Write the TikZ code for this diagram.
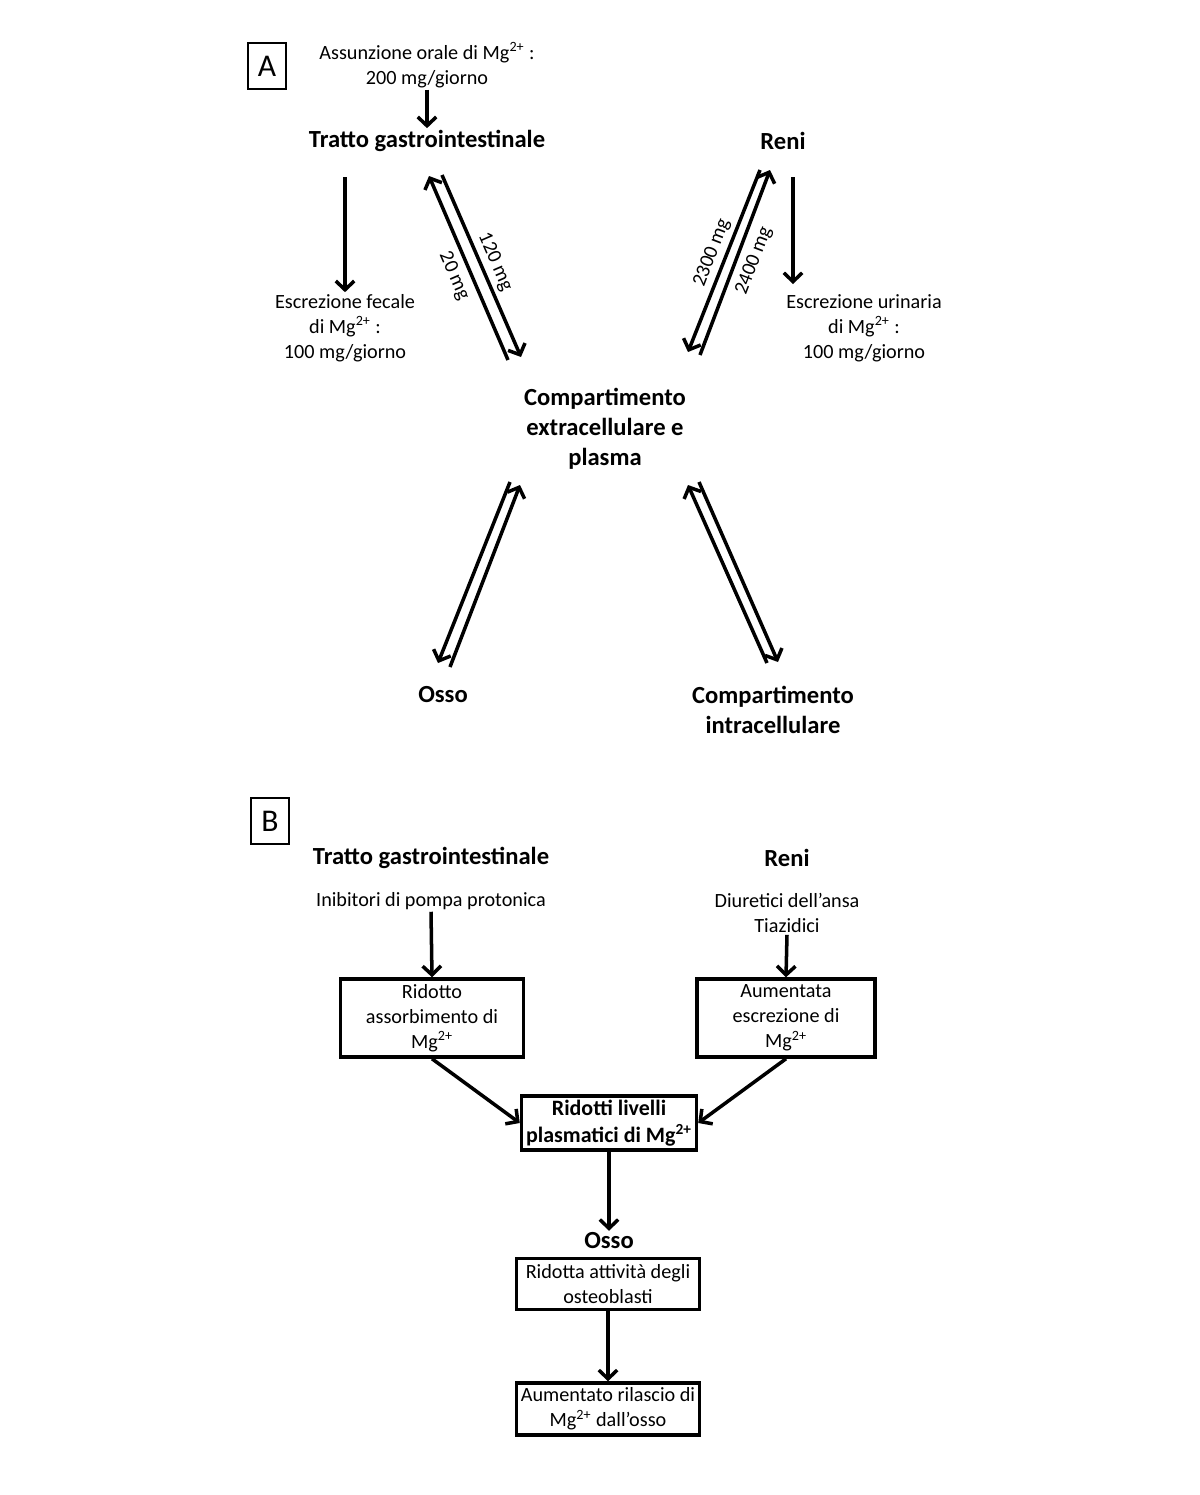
\documentclass[tikz,border=0pt]{standalone}
\usepackage{fontspec}
\setmainfont{Carlito}
\usetikzlibrary{arrows.meta}

\newcommand{\mgion}{Mg\textsuperscript{2+}}

\begin{document}
\begin{tikzpicture}[x=0.02cm, y=-0.02cm,
    txt/.style={align=center, inner sep=1pt, font=\fontsize{11.5}{14.2}\selectfont},
    head/.style={align=center, inner sep=1pt, font=\bfseries\fontsize{14}{17}\selectfont},
    arr/.style={-{Straight Barb[length=5pt, width=10.5pt]}, line width=2pt},
    panel/.style={draw, line width=1.2pt, minimum width=0.76cm, minimum height=0.92cm,
                  inner sep=0pt, font=\fontsize{18}{20}\selectfont},
    flow/.style={draw, line width=2pt, align=center, inner sep=0pt,
                 font=\fontsize{11.5}{14.2}\selectfont},
    flux/.style={inner sep=1pt, font=\fontsize{11.5}{14.2}\selectfont}]
  \useasboundingbox (0, 0) rectangle (1200, 1495);
  \fill[white] (0, 0) rectangle (1200, 1495);

  % ---------------- A ----------------
  \node[panel] (panA) at (267, 66) {A};
  \node[txt] (intake) at (427, 65) {Assunzione orale di \mgion\ :\\ 200 mg/giorno};
  \node[head] (gutA) at (427, 141) {Tratto gastrointestinale};
  \node[head] (kidA) at (783, 141) {Reni};
  \node[txt] (fecal) at (345, 328) {Escrezione fecale\\ di \mgion\ :\\ 100 mg/giorno};
  \node[txt] (urine) at (864, 328) {Escrezione urinaria\\ di \mgion\ :\\ 100 mg/giorno};
  \node[head] (ecf) at (605, 429) {Compartimento\\ extracellulare e\\ plasma};
  \node[head] (boneA) at (443, 695) {Osso};
  \node[head] (icf) at (773, 710) {Compartimento\\ intracellulare};

  \draw[arr] (intake.south) -- (gutA.north);

  \coordinate (fecTop) at (345, 177);
  \coordinate (urTop) at (793, 177);
  \coordinate (urBot) at (793, 284);
  \draw[arr] (fecTop) -- (fecal.north);
  \draw[arr] (urTop) -- (urBot);

  % gut <-> plasma
  \coordinate (ge1) at (508, 360); \coordinate (ge2) at (429, 176);
  \coordinate (ge3) at (442, 175); \coordinate (ge4) at (521, 357);
  \draw[arr] (ge1) -- (ge2);
  \draw[arr] (ge3) -- (ge4);
  \node[flux, rotate=-66.5] (f120) at (495, 262) {120 mg};
  \node[flux, rotate=-66.5] (f20) at (454, 276) {20 mg};

  % kidney <-> plasma
  \coordinate (ke1) at (760, 170); \coordinate (ke2) at (688, 352);
  \coordinate (ke3) at (700, 355); \coordinate (ke4) at (770, 170);
  \draw[arr] (ke1) -- (ke2);
  \draw[arr] (ke3) -- (ke4);
  \node[flux, rotate=69] (f2300) at (712, 253) {2300 mg};
  \node[flux, rotate=69] (f2400) at (754, 261) {2400 mg};

  % plasma <-> bone
  \coordinate (be1) at (510, 482); \coordinate (be2) at (438, 663);
  \coordinate (be3) at (450, 667); \coordinate (be4) at (520, 485);
  \draw[arr] (be1) -- (be2);
  \draw[arr] (be3) -- (be4);

  % plasma <-> cells
  \coordinate (ce1) at (767, 663); \coordinate (ce2) at (688, 485);
  \coordinate (ce3) at (699, 482); \coordinate (ce4) at (778, 662);
  \draw[arr] (ce1) -- (ce2);
  \draw[arr] (ce3) -- (ce4);

  % ---------------- B ----------------
  \node[panel] (panB) at (270, 821) {B};
  \node[head] (gutB) at (431, 858) {Tratto gastrointestinale};
  \node[head] (kidB) at (787, 858) {Reni};
  \node[txt] (ppi) at (431, 901) {Inibitori di pompa protonica};
  \node[txt] (diur) at (787, 913) {Diuretici dell’ansa\\ Tiazidici};

  \node[flow, minimum width=3.66cm, minimum height=1.56cm] (absorb) at (432, 1018)
    {Ridotto\\ assorbimento di\\ \mgion};
  \node[flow, minimum width=3.56cm, minimum height=1.56cm] (excr) at (786, 1018)
    {Aumentata\\ escrezione di\\ \mgion};
  \node[flow, minimum width=3.5cm, minimum height=1.08cm,
        font=\bfseries\fontsize{12.5}{15.3}\selectfont] (low) at (609, 1123)
    {Ridotti livelli\\ plasmatici di \mgion};
  \node[head] (boneB) at (609, 1241) {Osso};
  \node[flow, minimum width=3.66cm, minimum height=1.02cm] (osteo) at (608, 1284)
    {Ridotta attività degli\\ osteoblasti};
  \node[flow, minimum width=3.66cm, minimum height=1.04cm] (release) at (608, 1409)
    {Aumentato rilascio di\\ \mgion\ dall’osso};

  \draw[arr] (ppi.south) -- (absorb.north);
  \draw[arr] (diur.south) -- (excr.north);
  \draw[arr] (absorb.south) -- (low.west);
  \draw[arr] (excr.south) -- (low.east);
  \draw[arr] (low.south) -- (boneB.north);
  \draw[arr] (osteo.south) -- (release.north);
\end{tikzpicture}
\end{document}
